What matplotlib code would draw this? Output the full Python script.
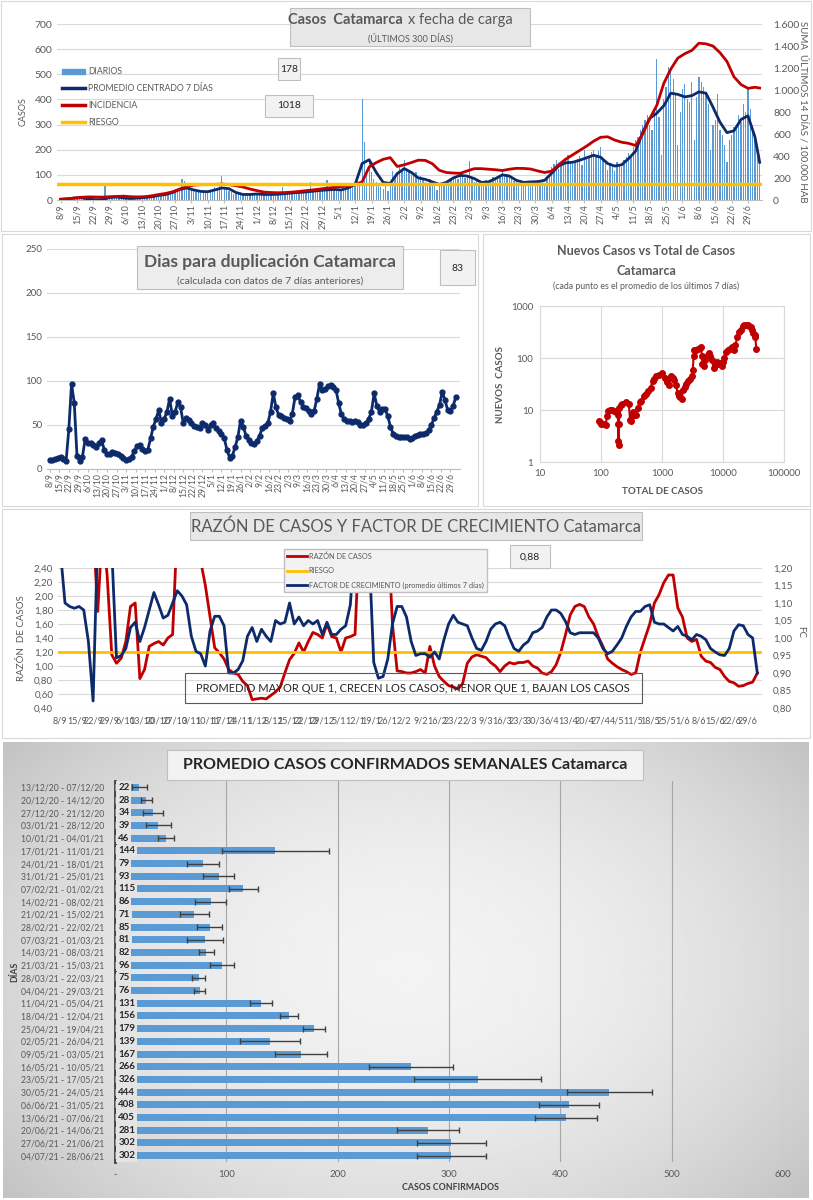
import numpy as np
import pandas as pd
import matplotlib
matplotlib.use('Agg')
import matplotlib.pyplot as plt
from matplotlib.patches import Rectangle, Patch
from matplotlib.lines import Line2D
from matplotlib.ticker import FuncFormatter

plt.rcParams['font.family'] = ['Lato', 'DejaVu Sans']

# ---------------- datos ----------------
fechas = pd.date_range('2020-09-08', periods=300, freq='D')

# casos diarios (una fila por semana, desde el martes 8/9)
diarios = [
    2, 5, 3, 8, 4, 6, 9,
    10, 7, 12, 9, 6, 11, 5,
    1, 0, 2, 1, 3, 62, 4,
    8, 10, 12, 6, 14, 9, 7,
    5, 8, 6, 4, 9, 7, 10,
    12, 9, 11, 15, 10, 14, 16,
    18, 22, 15, 25, 20, 28, 30,
    35, 40, 38, 82, 75, 45, 50,
    42, 35, 30, 38, 28, 36, 33,
    32, 38, 42, 50, 48, 55, 97,
    45, 40, 35, 30, 25, 28, 22,
    20, 25, 18, 24, 22, 26, 19,
    25, 22, 28, 20, 24, 18, 23,
    22, 26, 20, 24, 52, 21, 25,
    28, 30, 24, 32, 27, 35, 29,
    33, 38, 72, 36, 40, 32, 35,
    40, 36, 78, 42, 38, 44, 40,
    45, 40, 50, 48, 55, 60, 58,
    65, 75, 70, 400, 232, 120, 150,
    110, 85, 70, 55, 50, 45, 60,
    35, 70, 115, 95, 110, 130, 120,
    160, 125, 115, 100, 95, 110, 85,
    95, 80, 70, 60, 85, 75, 65,
    40, 55, 65, 70, 60, 75, 80,
    90, 95, 85, 110, 100, 88, 92,
    155, 85, 70, 75, 60, 68, 70,
    80, 70, 75, 90, 85, 95, 100,
    115, 95, 105, 100, 90, 75, 70,
    65, 80, 70, 72, 75, 60, 70,
    75, 80, 70, 85, 65, 90, 100,
    130, 145, 160, 125, 140, 150, 165,
    180, 145, 150, 155, 165, 175, 140,
    200, 165, 170, 190, 200, 175, 195,
    210, 160, 150, 120, 140, 130, 115,
    150, 145, 130, 160, 170, 185, 175,
    210, 240, 250, 280, 300, 320, 340,
    300, 280, 360, 560, 330, 180, 400,
    450, 530, 520, 480, 420, 220, 350,
    440, 460, 400, 390, 470, 240, 410,
    490, 470, 450, 420, 380, 200, 300,
    320, 420, 280, 260, 220, 150, 240,
    260, 290, 300, 340, 310, 380, 350,
    440, 360, 300, 260, 216, 178,
]

# promedio centrado 7 dias (leido cada 3 dias + ultimo dia)
promedio_7d = [
    3, 5, 8, 9, 4, 1, 2, 10, 12, 8,
    6, 8, 10, 13, 18, 22, 30, 42, 48, 40,
    34, 33, 40, 48, 45, 30, 22, 22, 24, 22,
    22, 23, 25, 28, 30, 32, 35, 38, 40, 42,
    40, 48, 62, 145, 160, 110, 70, 66, 105, 125,
    110, 88, 82, 72, 62, 70, 88, 98, 95, 85,
    70, 72, 85, 100, 95, 78, 70, 72, 73, 78,
    106, 135, 148, 150, 158, 168, 178, 170, 145, 135,
    140, 165, 195, 270, 325, 345, 375, 425, 420, 410,
    415, 430, 425, 370, 310, 268, 275, 320, 335, 250,
    150,
]

# incidencia: suma ultimos 14 dias / 100.000 hab (cada 3 dias + ultimo dia)
incidencia = [
    6, 10, 18, 25, 28, 27, 26, 30, 32, 35,
    30, 28, 30, 38, 50, 60, 75, 100, 120, 135,
    140, 140, 142, 145, 140, 130, 118, 100, 85, 72,
    68, 66, 68, 72, 78, 85, 92, 100, 108, 115,
    122, 130, 140, 165, 300, 340, 370, 385, 305, 320,
    340, 362, 360, 330, 270, 250, 245, 243, 265, 285,
    285, 280, 275, 268, 280, 288, 287, 282, 265, 250,
    262, 320, 370, 410, 450, 490, 535, 570, 575, 545,
    525, 515, 495, 600, 740, 860, 1060, 1190, 1290, 1330,
    1360, 1425, 1420, 1400, 1340, 1260, 1120, 1050, 1015, 1025,
    1018,
]
riesgo_incidencia = 150

# dias para duplicacion (cada 2 dias)
duplicacion = [
    10, 10, 11, 13, 14, 11, 9, 45, 97, 75,
    15, 9, 14, 34, 30, 29, 27, 25, 30, 33,
    22, 17, 17, 19, 18, 17, 15, 13, 10, 11,
    14, 20, 26, 27, 23, 21, 22, 35, 48, 57,
    67, 52, 57, 65, 80, 60, 65, 76, 70, 52,
    58, 56, 52, 49, 48, 47, 52, 50, 44, 50,
    52, 47, 43, 40, 35, 22, 13, 15, 25, 36,
    55, 48, 38, 33, 29, 28, 32, 38, 47, 49,
    52, 65, 86, 70, 61, 60, 58, 57, 54, 63,
    82, 84, 76, 71, 69, 66, 62, 66, 80, 97,
    90, 91, 94, 95, 93, 90, 75, 62, 57, 55,
    54, 53, 55, 53, 50, 50, 52, 57, 65, 86,
    72, 65, 68, 68, 60, 48, 40, 37, 36, 36,
    36, 36, 34, 35, 38, 39, 40, 40, 41, 44,
    50, 58, 65, 73, 88, 78, 67, 66, 72, 82,
]

# razon de casos y factor de crecimiento (cada 2 dias)
razon = [
    3.0, 3.0, 3.0, 3.0, 3.0, 3.0, 3.0, 3.0, 1.78, 3.0,
    2.30, 1.16, 1.04, 1.11, 1.35, 1.85, 1.90, 0.82, 0.95, 1.28,
    1.32, 1.35, 1.30, 1.40, 1.45, 3.0, 3.0, 3.0, 3.0, 3.0,
    2.5, 2.15, 1.70, 1.26, 1.19, 1.10, 0.95, 0.90, 0.88, 0.78,
    0.72, 0.52, 0.53, 0.54, 0.53, 0.58, 0.63, 0.70, 0.90, 1.09,
    1.18, 1.33, 1.20, 1.35, 1.48, 1.45, 1.40, 1.60, 1.42, 1.40,
    1.20, 1.40, 1.42, 1.45, 3.0, 3.0, 3.0, 3.0, 3.0, 3.0,
    3.0, 1.6, 0.93, 0.92, 0.90, 0.90, 0.92, 0.95, 0.90, 1.28,
    1.00, 0.85, 0.78, 0.72, 0.70, 0.67, 0.75, 1.04, 1.13, 1.16,
    1.14, 1.12, 1.05, 1.00, 0.92, 1.00, 1.05, 1.03, 1.05, 1.05,
    1.07, 1.00, 0.97, 0.90, 0.88, 0.92, 1.02, 1.20, 1.45, 1.73,
    1.85, 1.88, 1.85, 1.70, 1.60, 1.42, 1.28, 1.10, 1.04, 0.99,
    0.95, 0.92, 0.88, 0.90, 1.20, 1.40, 1.60, 1.90, 2.02, 2.19,
    2.30, 2.30, 1.83, 1.70, 1.40, 1.35, 1.38, 1.14, 1.07, 1.05,
    0.98, 0.95, 0.85, 0.78, 0.76, 0.71, 0.72, 0.75, 0.77, 0.90,
]
factor = [
    1.25, 1.10, 1.09, 1.085, 1.09, 1.08, 0.99, 0.82, 1.30, 1.30,
    1.30, 1.25, 0.943, 0.95, 0.97, 1.03, 1.045, 0.99, 1.03, 1.08,
    1.13, 1.095, 1.057, 1.065, 1.10, 1.135, 1.12, 1.095, 1.005, 0.962,
    0.955, 0.92, 1.02, 1.062, 1.062, 1.035, 0.90, 0.90, 0.91, 0.935,
    1.005, 1.03, 0.99, 1.025, 1.005, 0.99, 1.05, 1.04, 1.045, 1.10,
    1.04, 1.06, 1.035, 1.05, 1.04, 1.05, 1.01, 1.045, 1.01, 1.01,
    1.025, 1.035, 1.095, 1.30, 1.30, 1.30, 1.25, 0.93, 0.885, 0.89,
    0.94, 1.04, 1.09, 1.09, 1.06, 0.99, 0.95, 0.955, 0.955, 0.945,
    0.96, 0.94, 0.995, 1.04, 1.065, 1.045, 1.04, 1.035, 1.00, 0.97,
    0.965, 0.99, 1.025, 1.04, 1.045, 1.035, 1.00, 0.97, 0.962, 0.98,
    0.99, 1.015, 1.02, 1.03, 1.06, 1.08, 1.08, 1.07, 1.047, 1.015,
    1.01, 1.015, 1.015, 1.015, 1.015, 1.00, 0.97, 0.955, 0.962, 0.98,
    1.00, 1.033, 1.06, 1.076, 1.076, 1.09, 1.095, 1.045, 1.04, 1.04,
    1.03, 1.02, 1.033, 1.01, 1.005, 0.995, 1.01, 1.005, 0.995, 0.97,
    0.96, 0.952, 0.95, 0.97, 1.02, 1.038, 1.035, 1.01, 1.00, 0.90,
]
riesgo_razon = 1.2

# nuevos casos vs total de casos
total_casos = [93, 97, 100, 110, 120, 125, 130, 140, 150, 165, 175, 185, 190, 190, 192,
               195, 197, 200, 210, 220, 260, 285, 300, 310, 320, 340, 360, 380, 400, 430,
               460, 500, 550, 600, 650, 700, 750, 800, 900, 1000, 1100, 1200, 1300, 1400,
               1500, 1600, 1700, 1800, 1900, 2000, 2100, 2200, 2350, 2500, 2700, 2900, 3100,
               3200, 3300, 3400, 3600, 3900, 4200, 4400, 4500, 4600, 4800, 5100, 5500, 5800,
               6200, 6600, 7000, 7500, 8000, 8500, 9000, 9500, 10000, 10500, 11000, 12000,
               13000, 14000, 15000, 16000, 17000, 18000, 19500, 21000, 22500, 24000, 25500,
               27000, 28500, 30000, 31500, 33000, 34000, 35000]
nuevos_casos = [6.2, 5.8, 5.5, 5.3, 5.2, 7.5, 9.5, 9.8, 10, 9.5, 9.0, 9.2, 8.0, 5.5, 2.5,
                2.1, 5.5, 11, 12.5, 13, 14, 13, 6.5, 6.2, 7.5, 9, 8.5, 8, 11, 14,
                15, 19, 20, 23, 27, 36, 40, 45, 48, 52, 42, 35, 30, 45,
                42, 38, 30, 21, 19, 18, 16, 24, 28, 32, 36, 40, 45,
                60, 110, 140, 145, 150, 158, 160, 110, 75, 70, 90, 110, 125,
                110, 90, 65, 72, 85, 75, 80, 70, 85, 100, 130, 145,
                150, 160, 140, 175, 250, 310, 350, 410, 435, 440, 430,
                420, 390, 340, 300, 280, 250, 150]

# promedio semanal de casos confirmados
semanas = ['13/12/20 - 07/12/20', '20/12/20 - 14/12/20', '27/12/20 - 21/12/20',
           '03/01/21 - 28/12/20', '10/01/21 - 04/01/21', '17/01/21 - 11/01/21',
           '24/01/21 - 18/01/21', '31/01/21 - 25/01/21', '07/02/21 - 01/02/21',
           '14/02/21 - 08/02/21', '21/02/21 - 15/02/21', '28/02/21 - 22/02/21',
           '07/03/21 - 01/03/21', '14/03/21 - 08/03/21', '21/03/21 - 15/03/21',
           '28/03/21 - 22/03/21', '04/04/21 - 29/03/21', '11/04/21 - 05/04/21',
           '18/04/21 - 12/04/21', '25/04/21 - 19/04/21', '02/05/21 - 26/04/21',
           '09/05/21 - 03/05/21', '16/05/21 - 10/05/21', '23/05/21 - 17/05/21',
           '30/05/21 - 24/05/21', '06/06/21 - 31/05/21', '13/06/21 - 07/06/21',
           '20/06/21 - 14/06/21', '27/06/21 - 21/06/21', '04/07/21 - 28/06/21']
promedio_semanal = [22, 28, 34, 39, 46, 144, 79, 93, 115, 86, 71, 85, 81, 82, 96,
                    75, 76, 131, 156, 179, 139, 167, 266, 326, 444, 408, 405, 281, 302, 302]
desvio_semanal = [7, 5, 9, 11, 7, 48, 14, 14, 13, 14, 13, 11, 16, 7, 11,
                  6, 5, 10, 8, 10, 27, 23, 38, 57, 38, 27, 28, 28, 31, 31]

# ---------------- estilo ----------------
AZUL_BARRA = '#5B9BD5'
AZUL = '#0D2A6B'
ROJO = '#C00000'
AMARILLO = '#FFC000'
GRIS = '#595959'
W, H = 813, 1200

fig = plt.figure(figsize=(W / 100, H / 100), dpi=100)


def rect(x0, y0, x1, y1):
    return [x0 / W, 1 - y1 / H, (x1 - x0) / W, (y1 - y0) / H]


def caja(x0, y0, x1, y1, fc='#EDEDED', ec='#BFBFBF', lw=0.8, z=5):
    fig.add_artist(Rectangle((x0 / W, 1 - y1 / H), (x1 - x0) / W, (y1 - y0) / H,
                             transform=fig.transFigure, fc=fc, ec=ec, lw=lw, zorder=z))


def texto(x, y, s, **kw):
    kw.setdefault('zorder', 6)
    kw.setdefault('color', GRIS)
    fig.text(x / W, 1 - y / H, s, **kw)


dias = np.arange(len(fechas))
dias3 = np.append(dias[::3], dias[-1])
dias2 = dias[::2]
tick_pos = dias[::7]
tick_lab = [f'{d.day}/{d.month}' for d in fechas[::7]]
miles = FuncFormatter(lambda v, p: f'{int(v):,}'.replace(',', '.'))
coma = FuncFormatter(lambda v, p: f'{v:.2f}'.replace('.', ','))

# marcos de los paneles
caja(1, 1, 811, 231, fc='none', ec='#D9D9D9', z=1)
caja(2, 234, 478, 506, fc='none', ec='#D9D9D9', z=1)
caja(483, 234, 810, 506, fc='none', ec='#D9D9D9', z=1)
caja(2, 509, 810, 738, fc='none', ec='#D9D9D9', z=1)

# ---------------- panel 1: casos diarios ----------------
ax1 = fig.add_axes(rect(57, 24, 762, 200))
ax1.bar(dias, diarios, width=0.55, color=AZUL_BARRA, zorder=2)
ax1.plot(dias3, promedio_7d, color=AZUL, lw=2, zorder=4)
ax1.set_xlim(-1.5, 300)
ax1.set_ylim(0, 700)
ax1.set_yticks(range(0, 701, 100))
ax1.grid(axis='y', color='#D9D9D9', lw=0.8, zorder=0)
ax1.set_xticks(tick_pos)
ax1.set_xticklabels(tick_lab, rotation=90, fontsize=6.5, color=GRIS)
ax1.tick_params(axis='y', labelsize=7.5, labelcolor=GRIS, length=0)
ax1.tick_params(axis='x', length=2, color='#BFBFBF', pad=1)
for s in ['top', 'right', 'left']:
    ax1.spines[s].set_visible(False)
ax1.spines['bottom'].set_color('#BFBFBF')

ax1b = ax1.twinx()
ax1b.plot(dias3, incidencia, color=ROJO, lw=2)
ax1b.axhline(riesgo_incidencia, color=AMARILLO, lw=2.5)
ax1b.set_ylim(0, 1600)
ax1b.set_yticks(range(0, 1601, 200))
ax1b.yaxis.set_major_formatter(miles)
ax1b.tick_params(axis='y', labelsize=7.5, labelcolor=GRIS, length=0, pad=8)
for s in ax1b.spines.values():
    s.set_visible(False)

fig.legend([Patch(color=AZUL_BARRA), Line2D([], [], color=AZUL, lw=2.5),
            Line2D([], [], color=ROJO, lw=2.5), Line2D([], [], color=AMARILLO, lw=2.5)],
           ['DIARIOS', 'PROMEDIO CENTRADO 7 DÍAS', 'INCIDENCIA', 'RIESGO'],
           loc='upper left', bbox_to_anchor=(58 / W, 1 - 63 / H), frameon=False,
           fontsize=6.3, labelcolor=GRIS, handlelength=2.6, handleheight=0.6,
           labelspacing=0.9, handletextpad=0.3, borderpad=0)

caja(290, 8, 530, 46, fc='#E7E7E7')
texto(403, 20, 'Casos  Catamarca', fontsize=10.5, fontweight='bold', ha='right', va='center')
texto(408, 20, 'x fecha de carga', fontsize=10.5, ha='left', va='center')
texto(410, 38, '(ÚLTIMOS 300 DÍAS)', fontsize=6.5, ha='center', va='center')
caja(278, 58, 300, 80, fc='#F2F2F2')
texto(289, 69, '178', fontsize=7.5, ha='center', va='center', color='#262626')
caja(265, 95, 313, 117, fc='#F2F2F2')
texto(289, 106, '1018', fontsize=7.5, ha='center', va='center', color='#262626')
texto(23, 112, 'CASOS', fontsize=6.5, rotation=90, ha='center', va='center')
texto(803, 112, 'SUMA  ÚLTIMOS 14 DÍAS / 100.000 HAB', fontsize=7, rotation=-90,
      ha='center', va='center')

# ---------------- panel 2: dias para duplicacion ----------------
ax2 = fig.add_axes(rect(47, 249, 460, 469))
ax2.plot(dias2, duplicacion, color=AZUL, lw=2, marker='o', ms=3.5)
ax2.set_xlim(-2, 301)
ax2.set_ylim(0, 250)
ax2.set_yticks(range(0, 251, 50))
ax2.grid(axis='y', color='#D9D9D9', lw=0.8)
ax2.set_axisbelow(True)
ax2.set_xticks(tick_pos)
ax2.set_xticklabels(tick_lab, rotation=90, fontsize=6.2, color=GRIS)
ax2.tick_params(axis='y', labelsize=7, labelcolor=GRIS, length=0)
ax2.tick_params(axis='x', length=2, color='#BFBFBF', pad=1)
for s in ['top', 'right', 'left']:
    ax2.spines[s].set_visible(False)
ax2.spines['bottom'].set_color('#BFBFBF')

caja(137, 246, 403, 289, fc='#EDEDED')
texto(270, 262, 'Dias para duplicación Catamarca', fontsize=12.5, fontweight='bold',
      ha='center', va='center')
texto(270, 281, '(calculada con datos de 7 días anteriores)', fontsize=7.5,
      ha='center', va='center')
caja(440, 250, 475, 285, fc='#F2F2F2')
texto(457, 268, '83', fontsize=7.5, ha='center', va='center', color='#262626')

# ---------------- panel 3: nuevos vs total ----------------
ax3 = fig.add_axes(rect(540, 306, 784, 462))
ax3.plot(total_casos, nuevos_casos, color=ROJO, lw=1.5, marker='o', ms=4)
ax3.set_xscale('log')
ax3.set_yscale('log')
ax3.set_xlim(10, 100000)
ax3.set_ylim(1, 1000)
ax3.set_xticks([10, 100, 1000, 10000, 100000])
ax3.set_xticklabels(['10', '100', '1000', '10000', '100000'])
ax3.set_yticks([1, 10, 100, 1000])
ax3.set_yticklabels(['1', '10', '100', '1000'])
ax3.minorticks_off()
ax3.grid(color='#D9D9D9', lw=0.8)
ax3.set_axisbelow(True)
ax3.tick_params(labelsize=7, labelcolor=GRIS, length=0, pad=5)
for s in ax3.spines.values():
    s.set_color('#D9D9D9')

texto(646, 251, 'Nuevos Casos vs Total de Casos', fontsize=9, fontweight='bold',
      ha='center', va='center')
texto(646, 271, 'Catamarca', fontsize=9, fontweight='bold', ha='center', va='center')
texto(646, 286, '(cada punto es el promedio de los últimos 7 días)', fontsize=6.3,
      ha='center', va='center')
texto(662, 491, 'TOTAL DE CASOS', fontsize=7, fontweight='bold', ha='center', va='center')
texto(500, 384, 'NUEVOS  CASOS', fontsize=7, fontweight='bold', rotation=90,
      ha='center', va='center')

# ---------------- panel 4: razon y factor ----------------
ax4 = fig.add_axes(rect(58, 568, 762, 708))
ax4.plot(dias2, razon, color=ROJO, lw=2, zorder=3)
ax4.axhline(riesgo_razon, color=AMARILLO, lw=2, zorder=4)
ax4.set_xlim(-1, 300)
ax4.set_ylim(0.4, 2.4)
ax4.set_yticks(np.arange(0.4, 2.41, 0.2))
ax4.yaxis.set_major_formatter(coma)
ax4.grid(axis='y', color='#D9D9D9', lw=0.8)
ax4.set_axisbelow(True)
ax4.set_xticks(tick_pos)
ax4.set_xticklabels(tick_lab, fontsize=6.5, color=GRIS)
ax4.tick_params(axis='y', labelsize=7, labelcolor=GRIS, length=0)
ax4.tick_params(axis='x', length=0, pad=6)
for s in ax4.spines.values():
    s.set_visible(False)

ax4b = ax4.twinx()
ax4b.plot(dias2, factor, color=AZUL, lw=2)
ax4b.set_ylim(0.8, 1.2)
ax4b.set_yticks(np.arange(0.8, 1.201, 0.05))
ax4b.yaxis.set_major_formatter(coma)
ax4b.tick_params(axis='y', labelsize=7, labelcolor=GRIS, length=0, pad=8)
for s in ax4b.spines.values():
    s.set_visible(False)

caja(190, 512, 642, 540, fc='#E7E7E7')
texto(416, 527, 'RAZÓN DE CASOS Y FACTOR DE CRECIMIENTO Catamarca', fontsize=12,
      ha='center', va='center')
fig.legend([Line2D([], [], color=ROJO, lw=2), Line2D([], [], color=AMARILLO, lw=2),
            Line2D([], [], color=AZUL, lw=2)],
           ['RAZÓN DE CASOS', 'RIESGO', 'FACTOR DE CRECIMIENTO (promedio últimos 7 días)'],
           loc='upper left', bbox_to_anchor=(280 / W, 1 - 545 / H), frameon=True,
           fancybox=False, facecolor='#F2F2F2', edgecolor='#BFBFBF', framealpha=1,
           fontsize=5.3, labelcolor=GRIS, handlelength=2.6, labelspacing=1.0,
           handletextpad=0.3, borderpad=0.5)
caja(510, 545, 550, 568, fc='#F2F2F2')
texto(530, 557, '0,88', fontsize=7.5, ha='center', va='center', color='#262626')
caja(185, 673, 642, 703, fc='none', ec='#595959', lw=0.8)
texto(413, 688, 'PROMEDIO MAYOR QUE 1, CRECEN LOS CASOS, MENOR QUE 1, BAJAN LOS CASOS',
      fontsize=8, ha='center', va='center', color='#262626')
texto(22, 638, 'RAZÓN  DE CASOS', fontsize=7, rotation=90, ha='center', va='center')
texto(801, 632, 'FC', fontsize=7, rotation=-90, ha='center', va='center')

# ---------------- panel 5: promedio semanal ----------------
axbg = fig.add_axes(rect(3, 742, 808, 1198))
yy, xx = np.mgrid[0:1:200j, 0:1:300j]
rr = np.sqrt(((xx - 0.5) / 0.7) ** 2 + ((yy - 0.5) / 0.85) ** 2)
axbg.imshow(np.clip(0.95 - 0.22 * rr ** 2, 0, 1), cmap='gray', vmin=0, vmax=1,
            aspect='auto', extent=[0, 1, 0, 1])
axbg.axis('off')

ax5 = fig.add_axes(rect(115, 781, 783, 1162))
ax5.patch.set_alpha(0)
pos = np.arange(len(semanas))
ax5.barh(pos, promedio_semanal, height=0.55, color=AZUL_BARRA, xerr=desvio_semanal,
         error_kw=dict(ecolor='#404040', elinewidth=1, capsize=2.5, capthick=1), zorder=3)
ax5.set_ylim(len(semanas) - 0.5, -0.5)
ax5.set_xlim(0, 600)
ax5.set_xticks(range(0, 601, 100))
ax5.set_xticklabels(['-'] + [str(v) for v in range(100, 601, 100)])
ax5.set_yticks(pos)
ax5.set_yticklabels(semanas, fontsize=6.2, color=GRIS)
ax5.grid(axis='x', color='#A6A6A6', lw=0.8)
ax5.set_axisbelow(True)
ax5.tick_params(axis='x', labelsize=7, labelcolor=GRIS, length=0, pad=6)
ax5.tick_params(axis='y', length=0, pad=8)
for s in ['top', 'right', 'bottom']:
    ax5.spines[s].set_visible(False)
ax5.spines['left'].set_color('#404040')
ax5.spines['left'].set_linewidth(2)
for i, v in enumerate(promedio_semanal):
    ax5.text(3, i, str(v), va='center', ha='left', fontsize=7, fontweight='bold',
             color='#262626', bbox=dict(fc='#E4E4E4', ec='none', pad=1.3), zorder=5)

caja(167, 750, 643, 780, fc='#F2F2F2')
texto(405, 765, 'PROMEDIO CASOS CONFIRMADOS SEMANALES Catamarca', fontsize=11.5,
      fontweight='bold', ha='center', va='center', color='#262626')
texto(450, 1188, 'CASOS CONFIRMADOS', fontsize=6.3, fontweight='bold', ha='center',
      va='center', color='#404040')
texto(15, 972, 'DÍAS', fontsize=6.3, fontweight='bold', rotation=90, ha='center',
      va='center', color='#404040')

fig.savefig('out.png', dpi=100)
